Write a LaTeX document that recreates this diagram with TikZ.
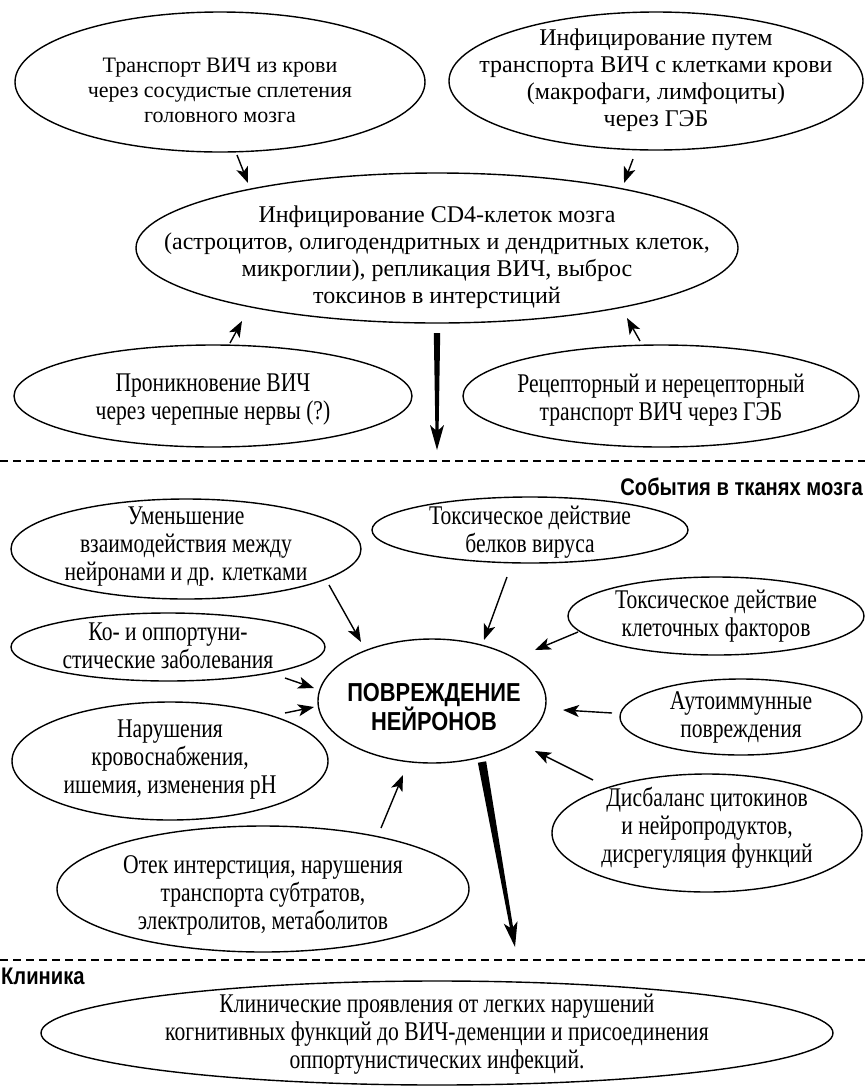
\documentclass[tikz,border=0pt]{standalone}
\usepackage{fontspec}
\setmainfont{Liberation Serif}
\newfontfamily\cserif{Liberation Serif}[FakeStretch=0.8]
\newfontfamily\csans{Liberation Sans}[FakeStretch=0.84]
\usetikzlibrary{shapes.geometric,arrows.meta,calc}
\newcommand\thickarrow[4]{%
  \coordinate (bk) at ($(#2)!20pt!(#1)$);
  \coordinate (nk) at ($(#2)!25pt!(#1)$);
  \fill ($(#1)!#3!90:(#2)$) -- ($(bk)!#4!90:(#2)$) -- ($(nk)!7pt!90:(#2)$) -- (#2)
     -- ($(nk)!7pt!-90:(#2)$) -- ($(bk)!#4!-90:(#2)$) -- ($(#1)!#3!-90:(#2)$) -- cycle;}
\begin{document}
\begin{tikzpicture}[x=1pt,y=-1pt,
  ell/.style={draw, line width=1.4pt, ellipse, inner sep=0pt},
  ta/.style={align=center, inner sep=0pt, font=\fontsize{24}{27}\selectfont},
  tb/.style={align=center, inner sep=0pt, font=\fontsize{22}{25}\selectfont},
  tc/.style={align=center, inner sep=0pt, font=\cserif\fontsize{27}{28}\selectfont},
  hd/.style={inner sep=0pt, font=\csans\bfseries\fontsize{24}{26}\selectfont},
  arr/.style={-{Stealth[length=16pt,width=12pt,inset=4pt]}, line width=1.4pt},
  sep/.style={line width=1.4pt, dash pattern=on 8pt off 5pt}]
\useasboundingbox[fill=white] (0,0) rectangle (865,1088);

% ---------- top section ----------
\node[ell, minimum width=410pt, minimum height=140pt] (eTL) at (220,82) {};
\node[tb] (tTL) at (220,90) {Транспорт ВИЧ из крови\\через сосудистые сплетения\\головного мозга};

\node[ell, minimum width=414pt, minimum height=138pt] (eTR) at (656,81) {};
\node[ta] (tTR) at (656,80) {Инфицирование путем\\транспорта ВИЧ с клетками крови\\(макрофаги, лимфоциты)\\через ГЭБ};

\node[ell, minimum width=602pt, minimum height=150pt] (eC) at (437,248) {};
\node[ta] (tC) at (437,257) {Инфицирование CD4-клеток мозга\\(астроцитов, олигодендритных и дендритных клеток,\\микроглии), репликация ВИЧ, выброс\\токсинов в интерстиций};

\node[ell, minimum width=398pt, minimum height=102pt] (eBL) at (213,396) {};
\node[tc] (tBL) at (213,400) {Проникновение ВИЧ\\через черепные нервы (?)};

\node[ell, minimum width=396pt, minimum height=102pt] (eBR) at (661,396) {};
\node[tc] (tBR) at (661,400) {Рецепторный и нерецепторный\\транспорт ВИЧ через ГЭБ};

\coordinate (a1s) at (237,155); \coordinate (a1e) at (248,183);
\coordinate (a2s) at (633,159); \coordinate (a2e) at (624,183);
\coordinate (a3s) at (230,343); \coordinate (a3e) at (242,321);
\coordinate (a4s) at (640,341); \coordinate (a4e) at (627,318);
\draw[arr] (a1s) -- (a1e);
\draw[arr] (a2s) -- (a2e);
\draw[arr] (a3s) -- (a3e);
\draw[arr] (a4s) -- (a4e);

\coordinate (b1s) at (437,333); \coordinate (b1e) at (437,450);
\thickarrow{b1s}{b1e}{3.2pt}{1.6pt}

\coordinate (d1l) at (0,461); \coordinate (d1r) at (865,461);
\draw[sep] (d1l) -- (d1r);
\node[hd, anchor=east] (hE) at (863,487) {События в тканях мозга};

% ---------- middle section ----------
\node[ell, minimum width=350pt, minimum height=100pt] (eU) at (186,549) {};
\node[tc] (tU) at (186,547) {Уменьшение\\взаимодействия между\\нейронами и др. клетками};

\node[ell, minimum width=316pt, minimum height=66pt] (eTV) at (530,530) {};
\node[tc] (tTV) at (530,532) {Токсическое действие\\белков вируса};

\node[ell, minimum width=296pt, minimum height=78pt] (eTK) at (716,616) {};
\node[tc] (tTK) at (716,616) {Токсическое действие\\клеточных факторов};

\node[ell, minimum width=314pt, minimum height=68pt] (eKO) at (168,647) {};
\node[tc] (tKO) at (168,646) {Ко- и оппортуни-\\стические заболевания};

\node[ell, minimum width=228pt, minimum height=124pt] (eP) at (432,701) {};
\node[hd, align=center, font=\csans\bfseries\fontsize{26}{29}\selectfont] (tP) at (434,707) {ПОВРЕЖДЕНИЕ\\НЕЙРОНОВ};

\node[ell, minimum width=242pt, minimum height=76pt] (eA) at (741,717) {};
\node[tc] (tA) at (741,717) {Аутоиммунные\\повреждения};

\node[ell, minimum width=316pt, minimum height=118pt] (eN) at (170,761) {};
\node[tc] (tN) at (170,760) {Нарушения\\кровоснабжения,\\ишемия, изменения рН};

\node[ell, minimum width=310pt, minimum height=118pt] (eD) at (707,833) {};
\node[tc] (tD) at (707,828) {Дисбаланс цитокинов\\и нейропродуктов,\\дисрегуляция функций};

\node[ell, minimum width=412pt, minimum height=126pt] (eO) at (263,889) {};
\node[tc] (tO) at (263,895) {Отек интерстиция, нарушения\\транспорта субтратов,\\электролитов, метаболитов};

\coordinate (c1s) at (329,585); \coordinate (c1e) at (361,642);
\coordinate (c2s) at (507,577); \coordinate (c2e) at (484,640);
\coordinate (c3s) at (578,632); \coordinate (c3e) at (535,650);
\coordinate (c4s) at (285,678); \coordinate (c4e) at (314,688);
\coordinate (c5s) at (285,713); \coordinate (c5e) at (314,707);
\coordinate (c6s) at (612,713); \coordinate (c6e) at (563,710);
\coordinate (c7s) at (593,780); \coordinate (c7e) at (535,751);
\coordinate (c8s) at (381,828); \coordinate (c8e) at (403,775);
\foreach \i in {1,...,8} {\draw[arr] (c\i s) -- (c\i e);}

\coordinate (b2s) at (482,762); \coordinate (b2e) at (515,947);
\thickarrow{b2s}{b2e}{4.2pt}{1.6pt}

\coordinate (d2l) at (0,960); \coordinate (d2r) at (865,960);
\draw[sep] (d2l) -- (d2r);
\node[hd, anchor=west] (hK) at (1,976) {Клиника};

% ---------- bottom section ----------
\node[ell, minimum width=792pt, minimum height=104pt] (eK) at (437,1033) {};
\node[tc] (tK) at (437,1034) {Клинические проявления от легких нарушений\\когнитивных функций до ВИЧ-деменции и присоединения\\оппортунистических инфекций.};
\end{tikzpicture}
\end{document}
